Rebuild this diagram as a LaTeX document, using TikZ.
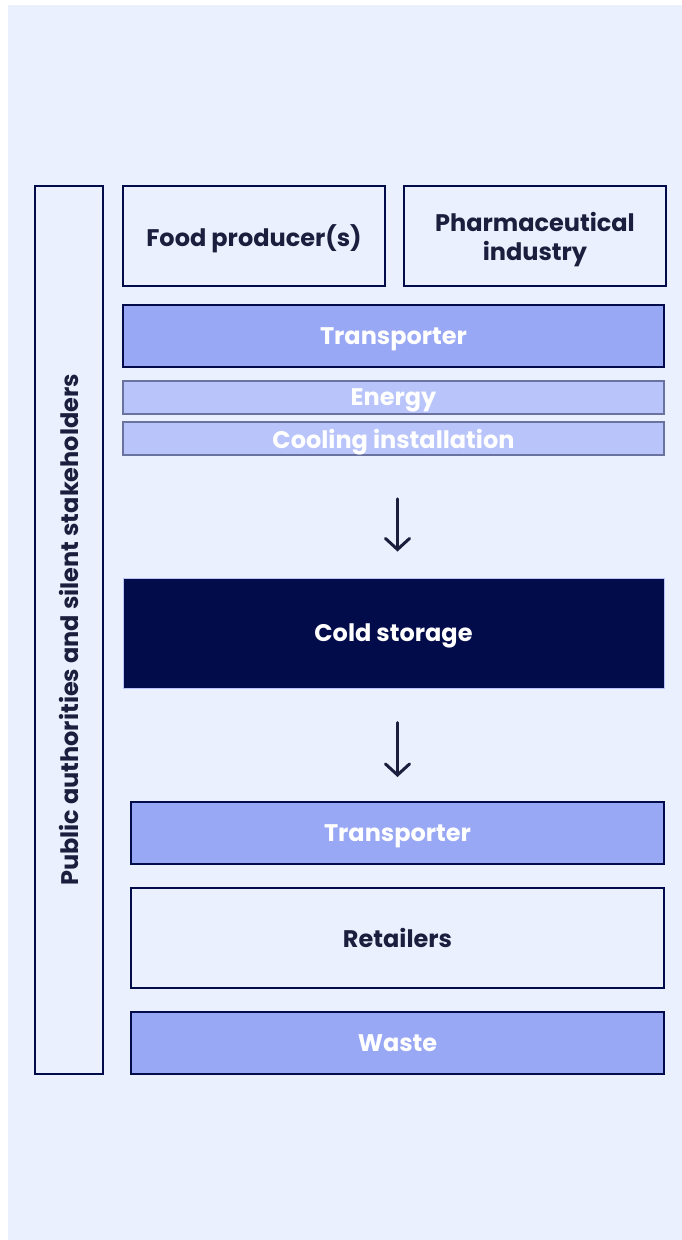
\documentclass[tikz,border=0pt]{standalone}
\usepackage{fontspec}
\setmainfont{Poppins}
\usetikzlibrary{positioning,arrows.meta}

\definecolor{pagebg}{HTML}{EAF0FD}
\definecolor{navy}{HTML}{020C4A}
\definecolor{ink}{HTML}{1B1E3D}
\definecolor{midblue}{HTML}{99A8F4}
\definecolor{paleblue}{HTML}{B9C5FA}
\definecolor{greyline}{HTML}{6A72A0}

\begin{document}
\begin{tikzpicture}[x=1pt,y=1pt,inner sep=0pt,text depth=0pt,
    font=\fontsize{24}{29}\selectfont\bfseries,
    actor/.style={rectangle,draw=navy,line width=2pt,fill=pagebg,text=ink,align=center},
    carrier/.style={rectangle,draw=navy,line width=2pt,fill=midblue,text=white},
    utility/.style={rectangle,draw=greyline,line width=1.6pt,fill=paleblue,text=white},
    store/.style={rectangle,draw=paleblue,line width=1pt,fill=navy,text=white},
    flow/.style={-{Straight Barb[length=11pt,width=24pt,line cap=round]},
      line width=3pt,line cap=round,draw=ink}]
    % page
    \fill[white] (0,0) rectangle (682,-1240);
    \fill[pagebg] (8,-5) rectangle (682,-1240);
    \useasboundingbox (0,0) rectangle (682,-1240);
    % stakeholders on the left
    \node[actor,minimum width=68pt,minimum height=888pt] (side) at (69,-630) {};
    \node[rotate=90,text=ink] (sidetxt) at (side.center) {Public authorities and silent stakeholders};
    % suppliers
    \node[actor,minimum width=262pt,minimum height=100pt] (food) at (254,-236) {Food producer(s)};
    \node[actor,minimum width=262pt,minimum height=100pt,align=center] (pharma) [right=17pt of food]
      {Pharmaceutical\\industry};
    \node[carrier,minimum width=541pt,minimum height=62pt] (trans) at (393.5,-336) {Transporter};
    \node[utility,minimum width=541pt,minimum height=33pt] (energy) at (393.5,-397.5) {Energy};
    \node[utility,minimum width=541pt,minimum height=33pt] (cooling) at (393.5,-438.5) {Cooling installation};
    % warehouse
    \node[store,minimum width=541pt,minimum height=110pt] (cold) at (393.5,-633) {Cold storage};
    % downstream
    \node[carrier,minimum width=533pt,minimum height=62pt] (transout) at (397.5,-833) {Transporter};
    \node[actor,minimum width=533pt,minimum height=100pt] (retail) at (397.5,-938) {Retailers};
    \node[carrier,minimum width=533pt,minimum height=62pt] (waste) at (397.5,-1043) {Waste};
    % flows
    \draw[flow,shorten <=43pt,shorten >=26pt] (cooling.south -| transout.north) -- (cold.north -| transout.north);
    \draw[flow,shorten <=34pt,shorten >=24pt] (cold.south -| transout.north) -- (transout.north);
\end{tikzpicture}
\end{document}
